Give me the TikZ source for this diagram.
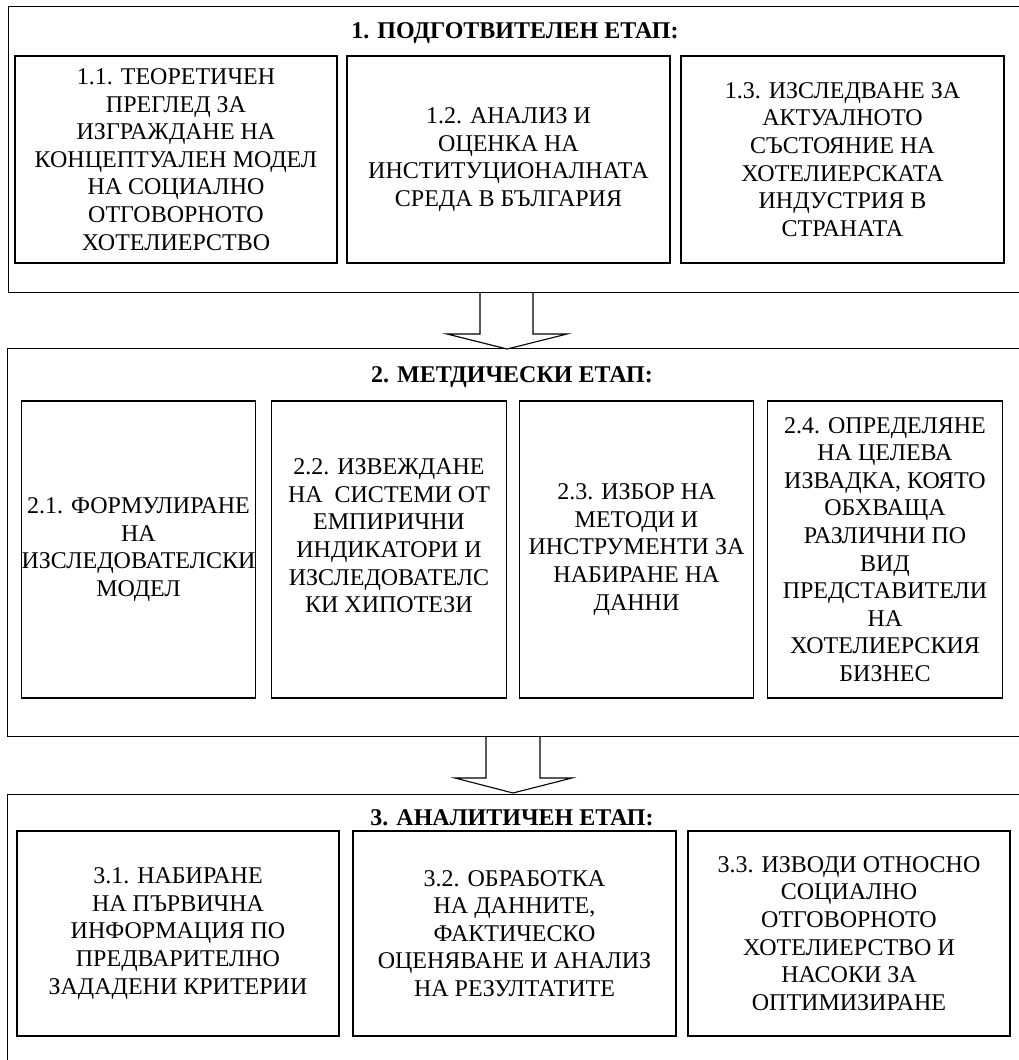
\documentclass[tikz,border=0pt]{standalone}
\usepackage{fontspec}
\setmainfont{Liberation Serif}
\begin{document}
\begin{tikzpicture}[x=1pt,y=-1pt,
  frame/.style={draw, line width=1.1pt, anchor=north west, inner sep=0pt},
  stepbox/.style={draw, line width=1.1pt, align=center, inner sep=0pt,
    font=\fontsize{24}{27.6}\selectfont},
  wide/.style={minimum width=322pt, minimum height=207pt},
  narrow/.style={minimum width=234.5pt, minimum height=297pt},
  title/.style={font=\bfseries\fontsize{24}{27.6}\selectfont, anchor=base, inner sep=0pt},
  blockarrow/.style={draw, line width=1.1pt, fill=white, line join=miter}]
\useasboundingbox (0,0) rectangle (1019,1060);
\clip (0,0) rectangle (1019,1060);

% stage frames
\node[frame, minimum width=1030pt, minimum height=286pt] (s1) at (8,6) {};
\node[frame, minimum width=1030pt, minimum height=388pt] (s2) at (7,348) {};
\node[frame, minimum width=1030pt, minimum height=290pt] (s3) at (7,794) {};

% titles
\node[title] (t1) at (515,38) {1. ПОДГОТВИТЕЛЕН ЕТАП:};
\node[title] (t2) at (512,382) {2. МЕТДИЧЕСКИ ЕТАП:};
\node[title] (t3) at (512,825) {3. АНАЛИТИЧЕН ЕТАП:};

% stage 1 boxes
\node[stepbox, wide] (b11) at (176,159.5) {1.1. ТЕОРЕТИЧЕН\\ПРЕГЛЕД ЗА\\ИЗГРАЖДАНЕ НА\\КОНЦЕПТУАЛЕН МОДЕЛ\\НА СОЦИАЛНО\\ОТГОВОРНОТО\\ХОТЕЛИЕРСТВО};
\node[stepbox, wide, minimum width=323pt] (b12) at (508.5,159.5) {1.2. АНАЛИЗ И\\ОЦЕНКА НА\\ИНСТИТУЦИОНАЛНАТА\\СРЕДА В БЪЛГАРИЯ};
\node[stepbox, wide, minimum width=323pt] (b13) at (842.5,159.5) {1.3. ИЗСЛЕДВАНЕ ЗА\\АКТУАЛНОТО\\СЪСТОЯНИЕ НА\\ХОТЕЛИЕРСКАТА\\ИНДУСТРИЯ В\\СТРАНАТА};

% stage 2 boxes
\node[stepbox, narrow] (b21) at (138.5,549.5) {2.1. ФОРМУЛИРАНЕ\\НА\\ИЗСЛЕДОВАТЕЛСКИ\\МОДЕЛ};
\node[stepbox, narrow] (b22) at (389,549.5) {2.2. ИЗВЕЖДАНЕ\\НА~ СИСТЕМИ ОТ\\ЕМПИРИЧНИ\\ИНДИКАТОРИ И\\ИЗСЛЕДОВАТЕЛС\\КИ ХИПОТЕЗИ\\\mbox{}};
\node[stepbox, narrow] (b23) at (636.5,549.5) {2.3. ИЗБОР НА\\МЕТОДИ И\\ИНСТРУМЕНТИ ЗА\\НАБИРАНЕ НА\\ДАННИ};
\node[stepbox, narrow] (b24) at (885,549.5) {2.4. ОПРЕДЕЛЯНЕ\\НА ЦЕЛЕВА\\ИЗВАДКА, КОЯТО\\ОБХВАЩА\\РАЗЛИЧНИ ПО\\ВИД\\ПРЕДСТАВИТЕЛИ\\НА\\ХОТЕЛИЕРСКИЯ\\БИЗНЕС};

% stage 3 boxes
\node[stepbox, wide, minimum height=205pt] (b31) at (178,933.5) {3.1. НАБИРАНЕ\\НА ПЪРВИЧНА\\ИНФОРМАЦИЯ ПО\\ПРЕДВАРИТЕЛНО\\ЗАДАДЕНИ КРИТЕРИИ};
\node[stepbox, wide, minimum height=205pt, minimum width=323pt] (b32) at (514.5,933.5) {3.2. ОБРАБОТКА\\НА ДАННИТЕ,\\ФАКТИЧЕСКО\\ОЦЕНЯВАНЕ И АНАЛИЗ\\НА РЕЗУЛТАТИТЕ};
\node[stepbox, wide, minimum height=205pt] (b33) at (849,933.5) {3.3. ИЗВОДИ ОТНОСНО\\СОЦИАЛНО\\ОТГОВОРНОТО\\ХОТЕЛИЕРСТВО И\\НАСОКИ ЗА\\ОПТИМИЗИРАНЕ};

% block arrows between stages
\draw[blockarrow] (s1.south -| 480,0) |- (447,334) -- (507,349) -- (567,334) -| (s1.south -| 533,0);
\draw[blockarrow] (s2.south -| 486,0) |- (455,778) -- (513,793) -- (572,778) -| (s2.south -| 540,0);
\end{tikzpicture}
\end{document}
